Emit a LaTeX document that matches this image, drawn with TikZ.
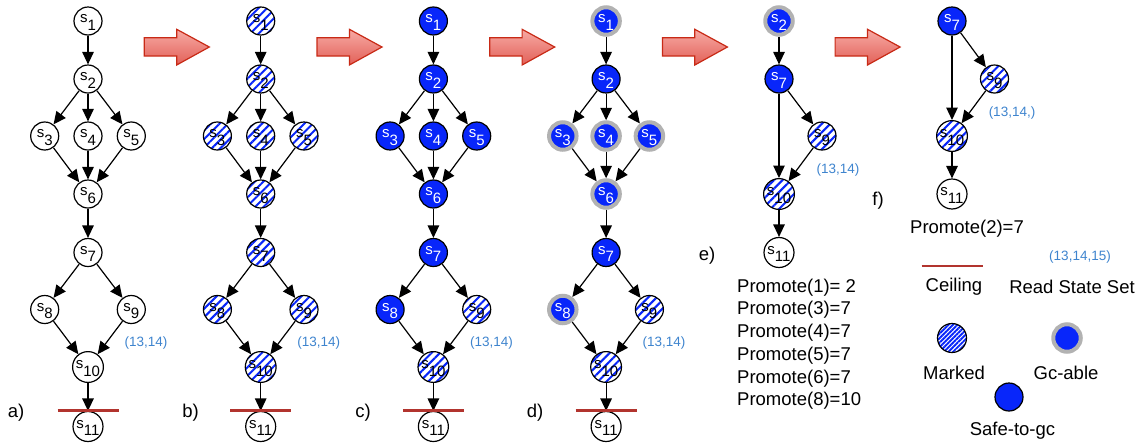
\documentclass[tikz,border=0pt]{standalone}
\usepackage{fontspec}
\setmainfont{Liberation Sans}
\usetikzlibrary{arrows.meta,patterns.meta}

\definecolor{nodeblue}{RGB}{8,38,250}
\definecolor{ringgray}{RGB}{178,178,178}
\definecolor{ceilred}{RGB}{178,52,46}
\definecolor{rsblue}{RGB}{62,132,206}
\definecolor{arrtop}{RGB}{247,170,164}
\definecolor{arrbot}{RGB}{226,96,88}
\definecolor{arrline}{RGB}{200,42,22}

% state label: "s" with a lowered index
\newcommand\stname[1]{s\raisebox{-7.2pt}{#1}}

% one column graph s1..s11 (diamond shape), #1 prefix, #2 x centre, #3 styles in order
\newcommand\ladder[3]{%
  \foreach \s [count=\k] in {#3} {
    \pgfmathsetmacro\dx{{0,0,-43.3,0,43.3,0,0,-43.3,43.3,0,0}[\k-1]}
    \pgfmathsetmacro\yy{{21,79,136,136,136,194,252.5,309.5,309.5,367,426.5}[\k-1]}
    \node[\s] (#1\k) at (#2+\dx,\yy) {\stname{\k}};
  }
  \foreach \u/\v in {1/2,2/3,2/4,2/5,3/6,4/6,5/6,6/7,7/8,7/9,8/10,9/10,10/11}
    \draw[edge] (#1\u) -- (#1\v);
  \draw[ceil] (#2-30.5,410.7) -- (#2+30.5,410.7);
  \node[rs] (#1rs) at (#2+58,343) {(13,14)};
}

\begin{document}
\begin{tikzpicture}[x=1pt,y=-1pt,
  st/.style={circle, draw=black, line width=1.2pt, minimum size=28pt, inner sep=0pt,
    font=\fontsize{15}{15}\selectfont, text height=11.5pt, text depth=7.6pt},
  wn/.style={st, fill=white},
  mk/.style={st, preaction={fill=white},
    pattern={Lines[angle=45,distance=6pt,line width=2pt]}, pattern color=nodeblue},
  sf/.style={st, fill=nodeblue, text=white},
  gc/.style={st, fill=nodeblue, draw=ringgray, line width=4pt, minimum size=27.5pt, text=white},
  edge/.style={line width=1.2pt, -{Triangle[length=12.5pt,width=11.5pt]}},
  ceil/.style={draw=ceilred, line width=2.6pt},
  rs/.style={text=rsblue, font=\fontsize{13.5}{13.5}\selectfont, inner sep=0pt},
  txt/.style={font=\fontsize{18.5}{18.5}\selectfont, inner sep=0pt},
  bigarrow/.style={top color=arrtop, bottom color=arrbot, draw=arrline, line width=1.2pt, line join=miter}
]
\useasboundingbox (0,0) rectangle (1145,445);

% transition arrows between the stages
\foreach \x in {144.3,317,489.7,662.4,835.1}
  \shade[bigarrow] (\x,37.7) -- (\x+32.4,37.7) -- (\x+32.4,29.3) -- (\x+65,47)
    -- (\x+32.4,65) -- (\x+32.4,56) -- (\x,56) -- cycle;

% stages a) to d)
\ladder{a}{88}{wn,wn,wn,wn,wn,wn,wn,wn,wn,wn,wn}
\ladder{b}{260.7}{mk,mk,mk,mk,mk,mk,mk,mk,mk,mk,wn}
\ladder{c}{433.4}{sf,sf,sf,sf,sf,sf,sf,sf,mk,mk,wn}
\ladder{d}{606.1}{gc,sf,gc,gc,gc,gc,sf,gc,mk,mk,wn}

\node[txt] (la) at (16,413) {a)};
\node[txt] (lb) at (190.5,413) {b)};
\node[txt] (lc) at (363,413) {c)};
\node[txt] (ld) at (535,413) {d)};

% stage e)
\node[gc] (e2) at (779,21) {\stname{2}};
\node[sf] (e7) at (779,79) {\stname{7}};
\node[mk] (e9) at (822,136) {\stname{9}};
\node[mk] (e10) at (779,194) {\stname{10}};
\node[wn] (e11) at (779,252.5) {\stname{11}};
\draw[edge] (e2) -- (e7);
\draw[edge] (e7) -- (e10);
\draw[edge] (e7) -- (e9);
\draw[edge] (e9) -- (e10);
\draw[edge] (e10) -- (e11);
\node[rs] (ers) at (838,170) {(13,14)};
\node[txt] (le) at (707,255.5) {e)};
\foreach \t [count=\i] in {Promote(1)= 2,Promote(3)=7,Promote(4)=7,Promote(5)=7,Promote(6)=7,Promote(8)=10}
  \node[txt, anchor=west] (pe\i) at (737,287.5+22.7*\i-22.7) {\t};

% stage f)
\node[sf] (f7) at (952,21) {\stname{7}};
\node[mk] (f9) at (994.5,79) {\stname{9}};
\node[mk] (f10) at (952,136) {\stname{10}};
\node[wn] (f11) at (952,194) {\stname{11}};
\draw[edge] (f7) -- (f10);
\draw[edge] (f7) -- (f9);
\draw[edge] (f9) -- (f10);
\draw[edge] (f10) -- (f11);
\node[rs] (frs) at (1012,113) {(13,14,)};
\node[txt] (lf) at (878,200.5) {f)};
\node[txt, anchor=west] (pf) at (910,229) {Promote(2)=7};

% legend
\draw[ceil] (921.7,266) -- (982.7,266);
\node[txt] (lgceil) at (954,287) {Ceiling};
\node[rs] (lgrs) at (1080,257) {(13,14,15)};
\node[txt] (lgrst) at (1072,287) {Read State Set};
\node[mk, minimum size=29pt, pattern={Lines[angle=45,distance=3.2pt,line width=1.9pt]}] (lgmk) at (952,338) {};
\node[txt] (lgmkt) at (954,373) {Marked};
\node[gc] (lggc) at (1067,338) {};
\node[txt] (lggct) at (1066,373) {Gc-able};
\node[sf] (lgsf) at (1009,397) {};
\node[txt] (lgsft) at (1012.5,431) {Safe-to-gc};
\end{tikzpicture}
\end{document}
